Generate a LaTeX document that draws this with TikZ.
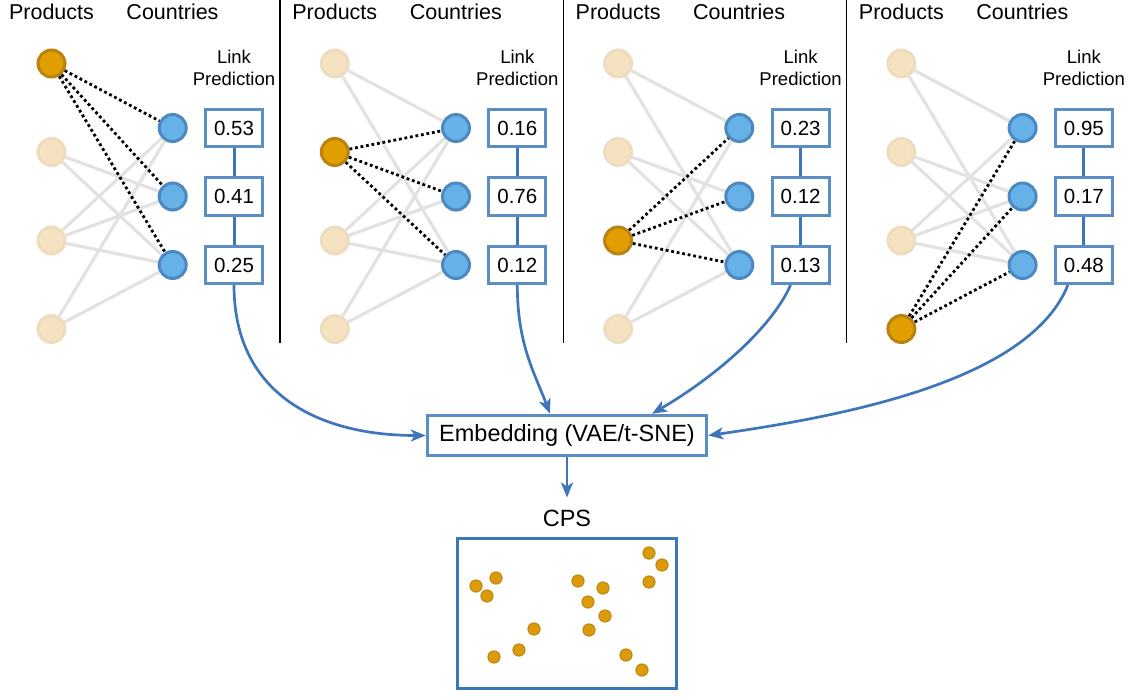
\documentclass[tikz,border=0pt]{standalone}
\usepackage{fontspec}
\setmainfont{Liberation Sans}
\usetikzlibrary{arrows.meta,backgrounds}
\definecolor{prodon}{HTML}{E09E00}
\definecolor{prodonb}{HTML}{B98212}
\definecolor{prodoff}{HTML}{F5E2C1}
\definecolor{prodoffb}{HTML}{EDDCBD}
\definecolor{ctry}{HTML}{66B2E8}
\definecolor{ctryb}{HTML}{4B89C0}
\definecolor{boxb}{HTML}{5A8EC5}
\definecolor{flowc}{HTML}{3F76BA}
\definecolor{edgeg}{HTML}{E2E2E2}
\definecolor{dotc}{HTML}{DB9B0A}
\definecolor{dotb}{HTML}{C28A12}
\tikzset{
 hdr/.style={font=\fontsize{21.5}{25}\selectfont, inner sep=0pt},
 lp/.style={font=\fontsize{18.5}{22}\selectfont, align=center, inner sep=0pt},
 pon/.style={circle, minimum size=27pt, inner sep=0pt, fill=prodon, draw=prodonb, line width=3pt},
 poff/.style={circle, minimum size=27pt, inner sep=0pt, fill=prodoff, draw=prodoffb, line width=3pt},
 ctrynode/.style={circle, minimum size=27pt, inner sep=0pt, fill=ctry, draw=ctryb, line width=3pt},
 valbox/.style={draw=boxb, fill=white, line width=3pt, minimum width=57pt, minimum height=37pt, inner sep=0pt, font=\fontsize{20.5}{24}\selectfont},
 boxlink/.style={draw=flowc, line width=3pt},
 grayedge/.style={draw=edgeg, line width=3.2pt},
 dotedge/.style={draw=black, line width=2.8pt, dash pattern=on 2.8pt off 2.8pt},
 sepline/.style={draw=black, line width=1.3pt},
 flow/.style={draw=flowc, line width=2.7pt, -{Stealth[length=15pt,width=12pt,inset=4pt]}},
 embbox/.style={draw=boxb, fill=white, line width=3pt, minimum width=279.5pt, minimum height=40.5pt, inner sep=0pt, font=\fontsize{23.5}{28}\selectfont},
 cpsbox/.style={draw=flowc, line width=3pt, minimum width=219.5pt, minimum height=150.5pt, inner sep=0pt},
 cpsdot/.style={circle, minimum size=12pt, inner sep=0pt, fill=dotc, draw=dotb, line width=1.2pt},
}
\begin{document}
\begin{tikzpicture}[x=1pt,y=-1pt]
\useasboundingbox (0,0) rectangle (1133,698);
\foreach \k/\va/\vb/\vc in {0/0.53/0.41/0.25,1/0.16/0.76/0.12,2/0.23/0.12/0.13,3/0.95/0.17/0.48}{
  \pgfmathsetmacro{\ox}{\k*283.3}
  \pgfmathtruncatemacro{\hi}{\k+1}
  \node[hdr] (ph\k) at ({51.5+\ox},11.5) {Products};
  \node[hdr] (ch\k) at ({172.5+\ox},11.5) {Countries};
  \node[lp] (lp\k) at ({234+\ox},68) {Link\\Prediction};
  \foreach \i/\y in {1/63.5,2/152,3/240.5,4/329}{
    \ifnum\i=\hi\relax
      \node[pon] (p\k\i) at ({51.5+\ox},\y) {};
    \else
      \node[poff] (p\k\i) at ({51.5+\ox},\y) {};
    \fi
  }
  \node[ctrynode] (c\k1) at ({172.7+\ox},128) {};
  \node[ctrynode] (c\k2) at ({172.7+\ox},196.5) {};
  \node[ctrynode] (c\k3) at ({172.7+\ox},265) {};
  \node[valbox] (b\k1) at ({234+\ox},128) {\va};
  \node[valbox] (b\k2) at ({234+\ox},196.5) {\vb};
  \node[valbox] (b\k3) at ({234+\ox},265) {\vc};
  \draw[boxlink] (b\k1) -- (b\k2) (b\k2) -- (b\k3);
  \begin{pgfonlayer}{background}
    \foreach \pa/\cb in {1/1,1/3,2/2,2/3,3/1,3/2,3/3,4/1,4/3}{
      \ifnum\pa=\hi\relax\else
        \draw[grayedge] (p\k\pa) -- (c\k\cb);
      \fi
    }
  \end{pgfonlayer}
  \foreach \cb in {1,2,3}{
    \draw[dotedge] (p\k\hi) -- (c\k\cb);
  }
}
\foreach \sx in {280,563.3,846.6}{
  \draw[sepline] (\sx,0) -- (\sx,343);
}
\node[embbox] (emb) at (567,435.5) {Embedding (VAE/t-SNE)};
\node[hdr, font=\fontsize{23.5}{28}\selectfont] (cpslbl) at (567,518) {CPS};
\node[cpsbox] (cps) at (567,613.5) {};
\draw[flow, shorten >=12pt] (emb.south) -- (cpslbl.north);
\draw[flow] (b03.south) .. controls +(0,110) and +(-106,0) .. (emb.west);
\draw[flow] (b13.south) .. controls +(0,60) and +(-15,-40) .. ([xshift=-17pt]emb.north);
\draw[flow] ([xshift=-10pt]b23.south) .. controls +(-20,45) and +(60,-35) .. ([xshift=85pt]emb.north);
\draw[flow] ([xshift=-16pt]b33.south) .. controls +(-38,95) and +(140,-20) .. (emb.east);
\foreach \n/\x/\y in {1/476/586,2/496/578,3/487/596,4/534/629,5/519/650,6/494/657,7/578/581,8/603/588,9/588/602,10/605/616,11/589/630,12/649/553,13/662/565,14/649/582,15/626/655,16/642/670}{
  \node[cpsdot] (d\n) at (\x,\y) {};
}
\end{tikzpicture}
\end{document}
